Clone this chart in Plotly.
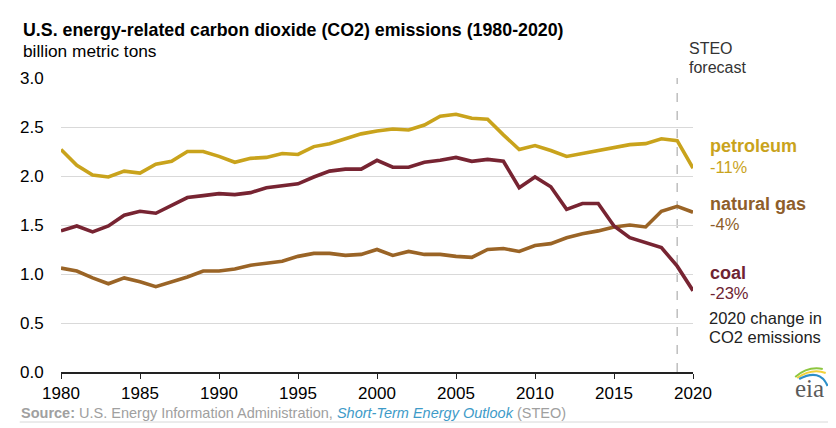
import plotly.graph_objects as go

years = list(range(1980, 2021))
petroleum = [2.27, 2.11, 2.01, 1.99, 2.05, 2.03, 2.12, 2.15, 2.25, 2.25,
             2.20, 2.14, 2.18, 2.19, 2.23, 2.22, 2.30, 2.33, 2.38, 2.43,
             2.46, 2.48, 2.47, 2.52, 2.61, 2.63, 2.59, 2.58, 2.42, 2.27,
             2.31, 2.26, 2.20, 2.23, 2.26, 2.29, 2.32, 2.33, 2.38, 2.36, 2.08]
coal = [1.44, 1.49, 1.43, 1.49, 1.60, 1.64, 1.62, 1.70, 1.78, 1.80,
        1.82, 1.81, 1.83, 1.88, 1.90, 1.92, 1.99, 2.05, 2.07, 2.07,
        2.16, 2.09, 2.09, 2.14, 2.16, 2.19, 2.15, 2.17, 2.15, 1.88,
        1.99, 1.89, 1.66, 1.72, 1.72, 1.49, 1.37, 1.32, 1.27, 1.08, 0.83]
natural_gas = [1.06, 1.03, 0.96, 0.90, 0.96, 0.92, 0.87, 0.92, 0.97, 1.03,
               1.03, 1.05, 1.09, 1.11, 1.13, 1.18, 1.21, 1.21, 1.19, 1.20,
               1.25, 1.19, 1.23, 1.20, 1.20, 1.18, 1.17, 1.25, 1.26, 1.23,
               1.29, 1.31, 1.37, 1.41, 1.44, 1.48, 1.50, 1.48, 1.64, 1.69, 1.63]

series_names = ["petroleum", "natural gas", "coal"]
series_changes = ["-11%", "-4%", "-23%"]
x_ticks = [1980, 1985, 1990, 1995, 2000, 2005, 2010, 2015, 2020]
y_ticks = [0.0, 0.5, 1.0, 1.5, 2.0, 2.5, 3.0]
forecast_year = 2019

C_PET = "#C9A31C"
C_GAS = "#9A6426"
C_COAL = "#772432"

# page body has an 8px default margin; lay the figure out in window pixels
OFF = 8
WIN_W, WIN_H = 836, 428
W, H = WIN_W - OFF, WIN_H - OFF
PLOT_L, PLOT_R, PLOT_T, PLOT_B = 50, 693, 78, 372
L, T = PLOT_L - OFF, PLOT_T - OFF
R, B = WIN_W - PLOT_R, WIN_H - PLOT_B
PW, PH = PLOT_R - PLOT_L, PLOT_B - PLOT_T

def px(x):
    return (x - PLOT_L) / PW

def py(y):
    return (PLOT_B - y) / PH

FONT = "Liberation Sans, Arial, sans-serif"

fig = go.Figure()
for vals, col, name in [(petroleum, C_PET, series_names[0]),
                        (natural_gas, C_GAS, series_names[1]),
                        (coal, C_COAL, series_names[2])]:
    fig.add_trace(go.Scatter(x=years, y=vals, mode="lines", name=name,
                             line=dict(color=col, width=3.6), hoverinfo="x+y"))

fig.add_shape(type="line", xref="x", yref="y", x0=forecast_year, x1=forecast_year,
              y0=0, y1=3.0, line=dict(color="#BEBEBE", width=1.5, dash="dash"), layer="below")

anns = []
def txt(x, y, text, size, color, xanchor="left", yanchor="middle", **kw):
    anns.append(dict(xref="paper", yref="paper", x=px(x), y=py(y), text=text,
                     showarrow=False, xanchor=xanchor, yanchor=yanchor,
                     font=dict(family=FONT, size=size, color=color), **kw))

txt(9, 30, "<b>U.S. energy-related carbon dioxide (CO2) emissions (1980-2020)</b>", 17.8, "#000000")
txt(9, 51, "billion metric tons", 17.3, "#000000")
txt(687, 48, "STEO", 16, "#333333")
txt(687, 68, "forecast", 16, "#333333")
txt(708, 146, "<b>petroleum</b>", 18, C_PET)
txt(708, 167, series_changes[0], 16.5, C_PET)
txt(708, 204, "<b>natural gas</b>", 18, "#8E5E2A")
txt(708, 224, series_changes[1], 16.5, "#8E5E2A")
txt(708, 273, "<b>coal</b>", 18, "#6E2433")
txt(708, 293, series_changes[2], 16.5, "#6E2433")
txt(707, 318, "2020 change in", 16.5, "#222222")
txt(707, 337, "CO2 emissions", 16.5, "#222222")
txt(7, 413, "<b>Source:</b> U.S. Energy Information Administration, "
            "<span style='color:#3E9BC8'><i>Short-Term Energy Outlook</i></span> (STEO)",
    14.5, "#A0A0A0")
# eia logo text
anns.append(dict(xref="paper", yref="paper", x=px(812), y=py(388), text="eia",
                 showarrow=False, xanchor="center", yanchor="middle",
                 font=dict(family="Liberation Serif, DejaVu Serif, serif", size=25, color="#5A5A5A")))

shapes = []
def path_px(points, color, width):
    (x0, y0), (cx, cy), (x1, y1) = points
    d = f"M {px(x0)} {py(y0)} Q {px(cx)} {py(cy)} {px(x1)} {py(y1)}"
    shapes.append(dict(type="path", xref="paper", yref="paper", path=d,
                       line=dict(color=color, width=width)))

path_px([(797, 377), (810, 366), (825, 369)], "#8DC63F", 2)
path_px([(799, 378), (814, 368), (828, 373)], "#F2D13A", 2)
path_px([(801, 379), (822, 368), (830, 386)], "#2C8FC9", 2.2)
# bottom rule
shapes.append(dict(type="line", xref="paper", yref="paper", x0=px(8), x1=px(836),
                   y0=py(422), y1=py(422), line=dict(color="#D8D8D8", width=1)))

fig.update_layout(
    width=W, height=H, margin=dict(l=L, r=R, t=T, b=B),
    paper_bgcolor="white", plot_bgcolor="white", showlegend=False,
    annotations=anns, shapes=fig.layout.shapes + tuple(shapes),
    font=dict(family=FONT, color="#000000"),
)
fig.update_xaxes(range=[1980, 2020], tickvals=x_ticks, ticktext=[str(v) for v in x_ticks],
                 showgrid=False, showline=True, linecolor="#222222", linewidth=1.5,
                 ticks="outside", ticklen=5, tickcolor="#222222", tickwidth=1.2,
                 tickfont=dict(size=17, color="#000000"), zeroline=False, fixedrange=True)
fig.update_yaxes(range=[0, 3.0], tickvals=y_ticks, ticktext=[f"{v:.1f}" for v in y_ticks],
                 showgrid=True, gridcolor="#D9D9D9", gridwidth=1.2, zeroline=False,
                 showline=False, ticks="outside", ticklen=13, tickcolor="rgba(0,0,0,0)",
                 tickfont=dict(size=17, color="#000000"), fixedrange=True)

fig.write_html("out.html", config={"displayModeBar": False})
